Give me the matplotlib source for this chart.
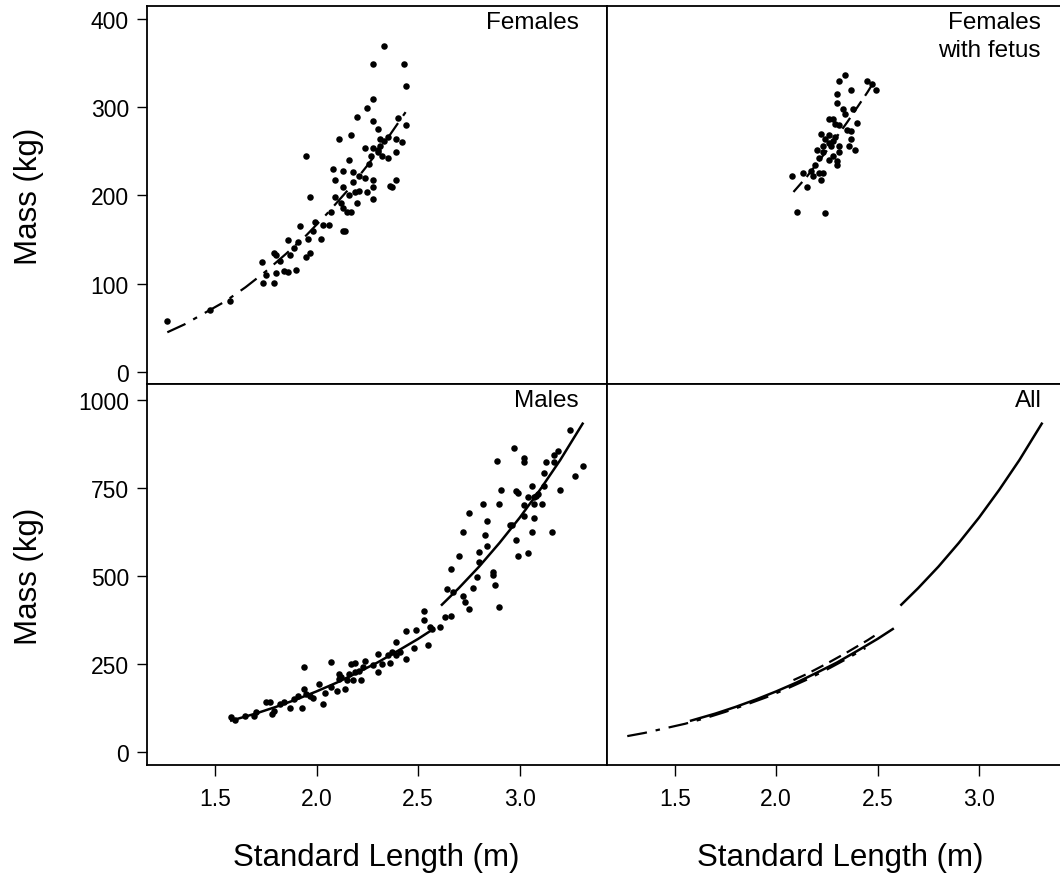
import numpy as np
import matplotlib.pyplot as plt

plt.rcParams['font.family'] = ['Liberation Sans', 'DejaVu Sans']

# ---- scatter data ----
fem_len = [1.265, 1.475, 1.574, 1.73, 1.75, 1.735, 1.79, 1.80, 1.79, 1.80, 1.82, 1.84, 1.86, 1.86,
           1.87, 1.90, 1.89, 1.91, 1.92, 1.95, 1.97, 1.96, 1.98, 1.99, 2.02, 2.03, 2.06, 2.07, 1.97,
           1.95, 2.09, 2.09, 2.08, 2.11, 2.13, 2.13, 2.12, 2.13, 2.13, 2.14, 2.15, 2.17, 2.17, 2.16,
           2.18, 2.16, 2.18, 2.19, 2.20, 2.20, 2.21, 2.21, 2.24, 2.25, 2.25, 2.24, 2.26, 2.28, 2.28,
           2.28, 2.28, 2.28, 2.28, 2.30, 2.30, 2.31, 2.32, 2.33, 2.35, 2.36, 2.37, 2.39, 2.39, 2.39,
           2.35, 2.42, 2.40, 2.43, 2.44, 2.44, 2.28, 2.27, 2.31, 2.33, 2.30]
fem_mass = [58, 70, 81, 125, 110, 101, 101, 112, 135, 132, 126, 115, 113, 150,
            132, 116, 141, 147, 165, 130, 135, 151, 160, 170, 151, 166, 166, 181, 198,
            245, 198, 218, 230, 264, 228, 210, 192, 186, 160, 160, 181, 181, 269, 240,
            227, 200, 215, 204, 191, 289, 205, 222, 220, 204, 299, 254, 236, 309, 349,
            284, 218, 210, 196, 275, 252, 264, 245, 369, 266, 211, 210, 264, 249, 218,
            242, 261, 288, 349, 324, 280, 254, 245, 256, 262, 249]

fet_len = [2.10, 2.24, 2.08, 2.13, 2.15, 2.17, 2.18, 2.21, 2.22, 2.23, 2.19, 2.20, 2.22, 2.23,
           2.24, 2.26, 2.28, 2.30, 2.30, 2.31, 2.26, 2.28, 2.26, 2.28, 2.29, 2.31, 2.30, 2.30,
           2.31, 2.34, 2.37, 2.33, 2.34, 2.35, 2.36, 2.37, 2.37, 2.39, 2.40, 2.38, 2.45, 2.47,
           2.49, 2.21, 2.23, 2.26, 2.27, 2.31, 2.29]
fet_mass = [181, 180, 222, 226, 210, 228, 222, 226, 218, 225, 234, 252, 270, 256,
            264, 240, 245, 234, 239, 249, 268, 262, 287, 287, 281, 280, 315, 305,
            330, 337, 319, 298, 292, 274, 256, 264, 273, 251, 282, 298, 330, 326,
            320, 243, 249, 260, 256, 256, 266]

mal_len = [1.58, 1.60, 1.65, 1.69, 1.70, 1.75, 1.77, 1.78, 1.79, 1.82, 1.84, 1.87, 1.89, 1.91,
           1.93, 1.94, 1.94, 1.95, 1.97, 1.98, 2.01, 2.03, 2.04, 2.07, 2.07, 2.10, 2.11, 2.11,
           2.12, 2.14, 2.15, 2.16, 2.17, 2.18, 2.19, 2.19, 2.21, 2.22, 2.23, 2.24, 2.28, 2.30,
           2.30, 2.32, 2.35, 2.36, 2.37, 2.39, 2.39, 2.41, 2.44, 2.44, 2.48, 2.49, 2.53, 2.53,
           2.55, 2.56, 2.57, 2.61, 2.63, 2.66, 2.64, 2.67, 2.66, 2.70, 2.72, 2.72, 2.73, 2.75,
           2.75, 2.77, 2.79, 2.80, 2.80, 2.82, 2.83, 2.84, 2.84, 2.87, 2.87, 2.88, 2.89, 2.90,
           2.90, 2.91, 2.95, 2.96, 2.97, 2.98, 2.99, 2.98, 2.99, 3.02, 3.02, 3.02, 3.02, 3.04,
           3.06, 3.06, 3.07, 3.07, 3.07, 3.08, 3.11, 3.12, 3.12, 3.13, 3.16, 3.17, 3.17, 3.19,
           3.20, 3.25, 3.27, 3.31, 3.04, 3.09]
mal_mass = [98, 92, 103, 101, 113, 141, 141, 108, 117, 136, 143, 124, 151, 160,
            124, 240, 179, 165, 160, 152, 193, 136, 168, 255, 184, 174, 207, 222,
            212, 179, 203, 222, 250, 203, 252, 226, 231, 203, 240, 257, 247, 278,
            226, 250, 276, 252, 283, 312, 274, 283, 264, 343, 295, 345, 400, 376,
            305, 354, 349, 354, 383, 385, 463, 454, 518, 555, 624, 444, 427, 406,
            679, 465, 496, 539, 567, 704, 615, 586, 657, 512, 503, 474, 825, 411,
            704, 744, 643, 643, 864, 602, 555, 742, 736, 834, 823, 702, 671, 564,
            624, 755, 664, 704, 723, 726, 704, 793, 755, 823, 624, 844, 823, 853,
            744, 913, 783, 813, 723, 733]

# ---- fitted curves ----
fem_fit_len = [1.265, 1.35, 1.45, 1.55, 1.65, 1.75, 1.85, 1.95, 2.05, 2.15, 2.25, 2.35, 2.44]
fem_fit_mass = [45, 54, 67, 80, 96, 114, 134, 155, 179, 205, 234, 265, 295]

fet_fit_len = [2.085, 2.15, 2.25, 2.35, 2.45, 2.485]
fet_fit_mass = [204, 221, 251, 283, 317, 330]

mal_fit1_len = [1.58, 1.7, 1.8, 1.9, 2.0, 2.1, 2.2, 2.3, 2.4, 2.5, 2.575]
mal_fit1_mass = [89, 109, 128, 149, 172, 197, 225, 254, 287, 321, 349]

mal_fit2_len = [2.617, 2.7, 2.8, 2.9, 3.0, 3.1, 3.2, 3.31]
mal_fit2_mass = [418, 465, 526, 593, 665, 744, 829, 932]

xticks = [1.5, 2.0, 2.5, 3.0]
xticklabels = ['1.5', '2.0', '2.5', '3.0']
top_yticks = [0, 100, 200, 300, 400]
bot_yticks = [0, 250, 500, 750, 1000]

dashdot = (0, (9, 4, 2, 4))
dashed = (0, (6, 3))

W, H = 1060, 878
fig = plt.figure(figsize=(W / 100, H / 100), dpi=100)

L, M, R = 147 / W, 607 / W, 1.0
T, C, B = 1 - 7 / H, 1 - 385 / H, 1 - 766 / H

ax_f = fig.add_axes([L, C, M - L, T - C])
ax_p = fig.add_axes([M, C, R - M, T - C])
ax_m = fig.add_axes([L, B, M - L, C - B])
ax_a = fig.add_axes([M, B, R - M, C - B])

for ax in (ax_f, ax_p, ax_m, ax_a):
    for sp in ax.spines.values():
        sp.set_linewidth(1.3)
    ax.tick_params(direction='out', labelsize=16.5, width=1.0)
    ax.tick_params(axis='x', length=8, pad=8)
    ax.tick_params(axis='y', length=7, pad=6)

for ax in (ax_f, ax_m):
    ax.set_xlim(1.165, 3.43)
for ax in (ax_p, ax_a):
    ax.set_xlim(1.165, 3.40)
    ax.spines['right'].set_visible(False)
    ax.set_yticks([])

for ax in (ax_f, ax_p):
    ax.set_ylim(-13.6, 414.7)
    ax.set_xticks([])
for ax in (ax_m, ax_a):
    ax.set_ylim(-37, 1044.6)
    ax.set_xticks(xticks)
    ax.set_xticklabels(xticklabels)

ax_f.set_yticks(top_yticks)
ax_m.set_yticks(bot_yticks)

dot = dict(s=22, color='black', linewidths=0)

# Females
ax_f.scatter(fem_len, fem_mass, **dot)
ax_f.plot(fem_fit_len, fem_fit_mass, color='black', lw=1.6, linestyle=dashdot)

# Females with fetus
ax_p.scatter(fet_len, fet_mass, **dot)
ax_p.plot(fet_fit_len, fet_fit_mass, color='black', lw=1.6, linestyle=dashed)

# Males
ax_m.scatter(mal_len, mal_mass, **dot)
ax_m.plot(mal_fit1_len, mal_fit1_mass, color='black', lw=1.8)
ax_m.plot(mal_fit2_len, mal_fit2_mass, color='black', lw=1.8)

# All
ax_a.plot(fem_fit_len, fem_fit_mass, color='black', lw=1.6, linestyle=dashdot)
ax_a.plot(fet_fit_len, fet_fit_mass, color='black', lw=1.6, linestyle=dashed)
ax_a.plot(mal_fit1_len, mal_fit1_mass, color='black', lw=1.8)
ax_a.plot(mal_fit2_len, mal_fit2_mass, color='black', lw=1.8)

# panel labels
lab = dict(ha='right', fontsize=17.5)
fig.text(579 / W, 1 - 12 / H, 'Females', va='top', **lab)
fig.text(1041 / W, 1 - 12 / H, 'Females', va='top', **lab)
fig.text(1041 / W, 1 - 57 / H, 'with fetus', va='baseline', **lab)
fig.text(579 / W, 1 - 390 / H, 'Males', va='top', **lab)
fig.text(1042 / W, 1 - 390 / H, 'All', va='top', **lab)

# axis titles
fig.text(29 / W, 1 - 196 / H, 'Mass (kg)', rotation=90, ha='center', va='center', fontsize=22.5)
fig.text(29 / W, 1 - 576 / H, 'Mass (kg)', rotation=90, ha='center', va='center', fontsize=22.5)
fig.text(376 / W, 1 - 858 / H, 'Standard Length (m)', ha='center', va='center', fontsize=22.5)
fig.text(840 / W, 1 - 858 / H, 'Standard Length (m)', ha='center', va='center', fontsize=22.5)

fig.savefig('out.png', dpi=100)
